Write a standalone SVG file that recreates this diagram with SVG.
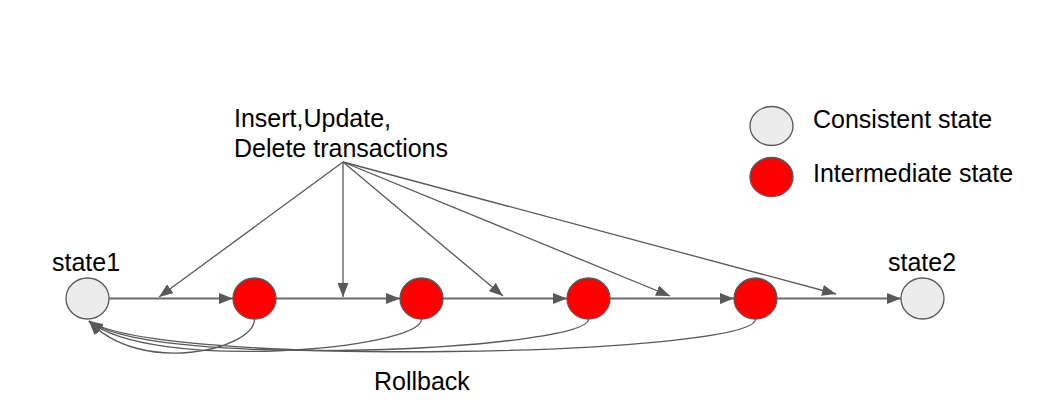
<svg xmlns="http://www.w3.org/2000/svg" width="1050" height="418" viewBox="0 0 1050 418">
<style>
.t{font-family:"Liberation Sans",Arial,sans-serif;font-size:25px;fill:#000}
.c{fill:#ececec;stroke:#595959;stroke-width:1.3}
.r{fill:#ff0000;stroke:#595959;stroke-width:1.3}
.h{stroke:#6b6b6b;stroke-width:2;fill:none}
.d{stroke:#595959;stroke-width:1.3;fill:none}
</style>
<defs>
<marker id="ah" viewBox="0 0 14 11" refX="14" refY="5.5" markerWidth="14" markerHeight="11" markerUnits="userSpaceOnUse" orient="auto">
<path d="M0,0 L14,5.5 L0,11 z" fill="#595959"/>
</marker>
</defs>
<rect width="1050" height="418" fill="#fff"/>
<g id="connectors">
<path class="h" d="M109 298.5 H233" marker-end="url(#ah)"/>
<path class="h" d="M276 298.5 H400" marker-end="url(#ah)"/>
<path class="h" d="M443 298.5 H567" marker-end="url(#ah)"/>
<path class="h" d="M610 298.5 H734" marker-end="url(#ah)"/>
<path class="h" d="M777 298.5 H901" marker-end="url(#ah)"/>
<path class="d" d="M343 162 L159 297" marker-end="url(#ah)"/>
<path class="d" d="M343 162 L343 297" marker-end="url(#ah)"/>
<path class="d" d="M343 162 L503 296" marker-end="url(#ah)"/>
<path class="d" d="M343 162 L670 296" marker-end="url(#ah)"/>
<path class="d" d="M343 162 L836 294" marker-end="url(#ah)"/>
<path class="d" d="M254.5 319 C254.5 350 140 376 89 321" marker-end="url(#ah)"/>
<path class="d" d="M421.5 319 C421.5 350 150 372 89 321" marker-end="url(#ah)"/>
<path class="d" d="M588.5 319 C588.5 350 155 370 89 321" marker-end="url(#ah)"/>
<path class="d" d="M755.5 319 C755.5 356 160 368 89 321" marker-end="url(#ah)"/>
</g>
<g id="state1"><ellipse class="c" cx="87.5" cy="298.5" rx="21.5" ry="20.5"/><text class="t" x="52" y="271">state1</text></g>
<g id="mid1"><ellipse class="r" cx="254.5" cy="298.5" rx="21.5" ry="20.5"/></g>
<g id="mid2"><ellipse class="r" cx="421.5" cy="298.5" rx="21.5" ry="20.5"/></g>
<g id="mid3"><ellipse class="r" cx="588.5" cy="298.5" rx="21.5" ry="20.5"/></g>
<g id="mid4"><ellipse class="r" cx="755.5" cy="298.5" rx="21.5" ry="20.5"/></g>
<g id="state2"><ellipse class="c" cx="922.5" cy="298.5" rx="21.5" ry="20.5"/><text class="t" x="888" y="271">state2</text></g>
<g id="transactions"><text class="t" x="234" y="127">Insert,Update,</text><text class="t" x="234" y="157">Delete transactions</text></g>
<g id="rollback"><text class="t" x="374" y="390">Rollback</text></g>
<g id="legend">
<ellipse class="c" cx="771.5" cy="126" rx="21.5" ry="19.5"/>
<text class="t" x="813" y="128">Consistent state</text>
<ellipse class="r" cx="771.5" cy="177" rx="21.5" ry="19.5"/>
<text class="t" x="813" y="182">Intermediate state</text>
</g>
</svg>
